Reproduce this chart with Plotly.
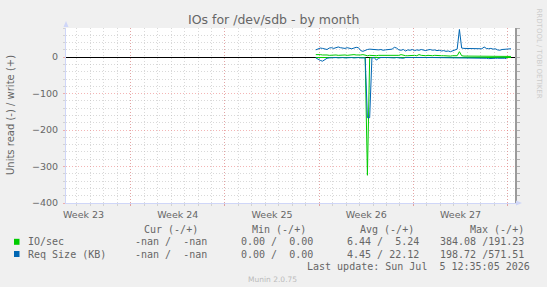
import pandas as pd
import plotly.graph_objects as go

# ---------------- data ----------------
start_time = "2026-06-20 18:00"
step = "4h"

io_write = [7, 8, 7, 6, 7, 6, 5, 6, 7, 6, 5, 6, 7, 6, 5, 6, 6, 7, 6, 5, 6, 7, 5,
            4, 5, 4, 5, 4, 5, 5, 4, 5, 4, 5, 5,
            5, 4, 5, 7, 5, 4, 4, 5, 4, 5, 4,
            7, 5, 4, 4, 5, 4, 4, 5, 4, 3, 4, 4, 3, 4, 3, 4, 3, 4,
            15, 4, 3, 3, 2, 3, 2, 3, 3, 2, 4, 3, 2, 3, 2, 3, 4, 3, 2, 3, 2, 3, 3, 2]
io_read = [-1, -1, -2, -1, -1, -1, -1, -1, -2, -1, -1, -1, -1, -1, -1, -2, -1, -1, -1, -1, -1, -1, -1,
           -324, -2, -1, -1, -2, -1, -1, -1, -1, -1, -1, -1,
           -1, -1, -1, -1, -1, -1, -1, -1, -1, -1, -1,
           -1, -1, -1, -1, -1, -1, -1, -1, -1, -1, -1, -1, -1, -1, -1, -1, -1, -1,
           -2, -1, -1, -1, -1, -1, -1, -1, -1, -1, -1, -1, -1, -1, -1, -1, -1, -1, -1, -1, -1, -1, -1, -1]
req_write = [20, 23, 25, 24, 22, 21, 25, 26, 24, 27, 28, 26, 25, 24, 26, 25, 23, 25, 27, 26, 18, 16, 19,
             21, 22, 21, 20, 19, 20, 21, 19, 20, 21, 20, 22,
             27, 25, 20, 19, 21, 17, 20, 19, 21, 18, 20,
             19, 21, 20, 18, 20, 21, 19, 20, 18, 19, 17, 18, 16, 17, 15, 17, 18, 22,
             76, 25, 24, 24, 23, 24, 23, 24, 22, 23, 23, 28, 24, 23, 24, 22, 23, 20, 19, 21, 22, 23, 22, 23]
req_read = [-2, -6, -9, -11, -7, -3, -2, -1, -2, -1, -2, -1, -1, -2, -1, -2, -1, -2, -1, -1, -2, -1, -2,
            -166, -166, -2, -1, -8, -3, -1, -2, -1, -1, -2, -3, -2,
            -1, -2, -1, -3, -1, -2, -1, -1, -2, -1,
            -1, -2, -1, -1, -2, -1, -1, -1, -2, -1, -1, -1, -2, -1, -1, -2, -1,
            -2, -1, -1, -2, -1, -1, -2, -1, -1, -2, -1, -1, -3, -3, -4, -3, -4, -3, -3, -4, -3, -3, -4]

week_starts = ["2026-05-31", "2026-06-07", "2026-06-14", "2026-06-21", "2026-06-28", "2026-07-05"]
week_label_pos = ["2026-06-03 12:00", "2026-06-10 12:00", "2026-06-17 12:00",
                  "2026-06-24 12:00", "2026-07-01 12:00"]
week_labels = ["Week 23", "Week 24", "Week 25", "Week 26", "Week 27"]
x_range = ["2026-06-02 04:40", "2026-07-05 13:05"]
y_range = [-400, 80]

legend_headers = ["Cur (-/+)", "Min (-/+)", "Avg (-/+)", "Max (-/+)"]
legend_rows = [
    ("IO/sec", "#00CC00", ["-nan /  -nan", "0.00 /  0.00", "6.44 /  5.24", "384.08 /191.23"]),
    ("Req Size (KB)", "#0066B3", ["-nan /  -nan", "0.00 /  0.00", "4.45 / 22.12", "198.72 /571.51"]),
]
last_update = "Last update: Sun Jul  5 12:35:05 2026"

# ---------------- figure ----------------
times = pd.date_range(start_time, periods=len(io_write), freq=step)

W, H = 547, 287
L, R, T, B = 66, 32, 28, 84
PW, PH = W - L - R, H - T - B


def fx(px):
    return (px - L) / PW


def fy(py):
    return (H - B - py) / PH


GREEN = "#00CC00"
BLUE = "#0066B3"
FONT = "#666666"
AXIS = "#CFD6F8"
MGRID = "rgba(235,120,120,0.55)"
GRID = "rgba(185,185,185,0.55)"

fig = go.Figure()
fig.add_trace(go.Scatter(x=times, y=io_read, mode="lines", line=dict(color=GREEN, width=1), hoverinfo="skip"))
fig.add_trace(go.Scatter(x=times, y=io_write, mode="lines", line=dict(color=GREEN, width=1), hoverinfo="skip"))
fig.add_trace(go.Scatter(x=times, y=req_read, mode="lines", line=dict(color=BLUE, width=1), hoverinfo="skip"))
fig.add_trace(go.Scatter(x=times, y=req_write, mode="lines", line=dict(color=BLUE, width=1), hoverinfo="skip"))
# carrier traces for overlay axes
fig.add_trace(go.Scatter(x=[times[0]], y=[None], xaxis="x2", yaxis="y", showlegend=False, hoverinfo="skip"))
fig.add_trace(go.Scatter(x=[times[0]], y=[None], xaxis="x", yaxis="y2", showlegend=False, hoverinfo="skip"))

fig.update_layout(
    width=W, height=H,
    margin=dict(l=L, r=R, t=T, b=B, pad=0),
    paper_bgcolor="#F0F0F0",
    plot_bgcolor="#FFFFFF",
    showlegend=False,
    font=dict(family="DejaVu Sans", size=9.5, color=FONT),
    xaxis=dict(
        type="date", range=x_range,
        tickmode="array", tickvals=week_starts, ticktext=[""] * len(week_starts),
        showgrid=True, gridcolor=MGRID, griddash="1px,2px", gridwidth=1,
        ticks="outside", ticklen=2, tickcolor=MGRID,
        minor=dict(dtick=86400000, tick0="2026-06-01", showgrid=True,
                   gridcolor=GRID, griddash="1px,2px",
                   ticks="outside", ticklen=2, tickcolor=GRID),
        showline=True, linecolor=AXIS, linewidth=1,
        zeroline=False, fixedrange=True,
    ),
    xaxis2=dict(
        type="date", range=x_range, overlaying="x", side="bottom",
        tickmode="array", tickvals=week_label_pos, ticktext=week_labels,
        showgrid=False, showline=False, ticks="", ticklabelstandoff=4,
        tickfont=dict(family="DejaVu Sans", size=9.5, color=FONT),
    ),
    yaxis=dict(
        range=y_range, tickmode="linear", tick0=0, dtick=100,
        showgrid=True, gridcolor=MGRID, griddash="1px,2px",
        ticks="outside", ticklen=2, tickcolor=MGRID,
        minor=dict(dtick=20, showgrid=True, gridcolor=GRID, griddash="1px,2px",
                   ticks="outside", ticklen=2, tickcolor=GRID),
        showline=True, linecolor=AXIS, linewidth=1,
        zeroline=True, zerolinecolor="#000000", zerolinewidth=1,
        tickfont=dict(family="DejaVu Sans", size=9.5, color=FONT),
        ticklabelstandoff=3,
    ),
    yaxis2=dict(
        range=y_range, overlaying="y", side="right",
        tickmode="linear", tick0=0, dtick=20,
        showgrid=False, zeroline=False, showticklabels=False,
        showline=True, linecolor="#9a9a9a", linewidth=1.5,
        ticks="outside", ticklen=3, tickcolor="#b0b0b0",
    ),
)

# arrows on axes
fig.add_shape(type="path", xref="paper", yref="paper",
              path=f"M {fx(516)} {fy(200.5)} L {fx(522)} {fy(203)} L {fx(516)} {fy(205.5)} Z",
              fillcolor=AXIS, line=dict(width=0))
fig.add_shape(type="path", xref="paper", yref="paper",
              path=f"M {fx(63.5)} {fy(27)} L {fx(66)} {fy(21)} L {fx(68.5)} {fy(27)} Z",
              fillcolor=AXIS, line=dict(width=0))

ann = []
# title
ann.append(dict(text="IOs for /dev/sdb - by month", x=fx(273), y=fy(19.5), xref="paper", yref="paper",
                xanchor="center", yanchor="middle", showarrow=False,
                font=dict(family="DejaVu Sans", size=12.5, color=FONT)))
# y title
ann.append(dict(text="Units read (-) / write (+)", x=fx(10), y=fy(115), xref="paper", yref="paper",
                xanchor="center", yanchor="middle", showarrow=False, textangle=-90,
                font=dict(family="DejaVu Sans", size=10, color=FONT)))
# watermark
ann.append(dict(text="RRDTOOL / TOBI OETIKER", x=fx(538.5), y=fy(53), xref="paper", yref="paper",
                xanchor="center", yanchor="middle", showarrow=False, textangle=90,
                font=dict(family="DejaVu Sans", size=7, color="#CCCCCC")))
ann.append(dict(text="Munin 2.0.75", x=fx(272.5), y=fy(279.5), xref="paper", yref="paper",
                xanchor="center", yanchor="middle", showarrow=False,
                font=dict(family="DejaVu Sans", size=7.5, color="#BBBBBB")))

MONO = dict(family="DejaVu Sans Mono", size=10, color=FONT)
nb = lambda s: s.replace(" ", "\u00a0")
header_right = [200, 308, 416, 525.5]
value_right = [209, 314.6, 420.5, 526]
for txt, xr in zip(legend_headers, header_right):
    ann.append(dict(text=nb(txt), x=fx(xr), y=fy(229), xref="paper", yref="paper",
                    xanchor="right", yanchor="middle", showarrow=False, font=MONO))
row_y = [241.8, 254]
for (name, color, vals), ry in zip(legend_rows, row_y):
    fig.add_shape(type="rect", xref="paper", yref="paper",
                  x0=fx(14), x1=fx(19.5), y0=fy(ry - 3), y1=fy(ry + 3),
                  fillcolor=color, line=dict(width=0))
    ann.append(dict(text=nb(name), x=fx(26), y=fy(ry), xref="paper", yref="paper",
                    xanchor="left", yanchor="middle", showarrow=False, font=MONO))
    for v, xr in zip(vals, value_right):
        ann.append(dict(text=nb(v), x=fx(xr), y=fy(ry), xref="paper", yref="paper",
                        xanchor="right", yanchor="middle", showarrow=False, font=MONO))
ann.append(dict(text=nb(last_update), x=fx(532), y=fy(266.3), xref="paper", yref="paper",
                xanchor="right", yanchor="middle", showarrow=False, font=MONO))

fig.update_layout(annotations=ann)
fig.write_html("out.html")
